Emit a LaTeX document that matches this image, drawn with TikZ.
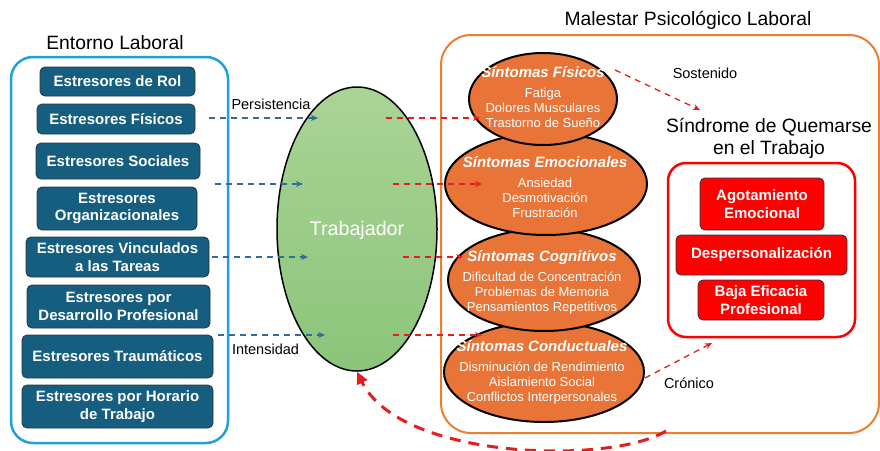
\documentclass[tikz,border=0pt]{standalone}
\usepackage{fontspec}
\setmainfont{Liberation Sans}
\usetikzlibrary{shapes.geometric,arrows.meta}
\definecolor{boxblue}{RGB}{22,94,128}
\definecolor{boxedge}{RGB}{40,55,65}
\definecolor{envblue}{RGB}{34,160,218}
\definecolor{orgline}{RGB}{237,125,49}
\definecolor{orgfill}{RGB}{233,116,55}
\definecolor{dashblue}{RGB}{46,110,150}
\definecolor{dashred}{RGB}{228,30,30}
\definecolor{greenT}{RGB}{170,212,150}
\definecolor{greenB}{RGB}{140,196,122}
\newcommand{\fs}[2]{\fontsize{#1}{#2}\selectfont}
\tikzset{
  sbox/.style={rectangle, rounded corners=5pt, fill=boxblue, draw=boxedge, line width=0.8pt,
    text=white, align=center, inner sep=0pt, font=\fs{15}{17.5}\bfseries},
  rbox/.style={rectangle, rounded corners=5pt, fill=red, draw=boxedge, line width=0.8pt,
    text=white, align=center, inner sep=0pt, font=\fs{15}{18}\bfseries},
  oell/.style={ellipse, fill=orgfill, draw=black, line width=2pt, inner sep=0pt},
  otext/.style={text=white, align=center, font=\fs{13}{15}},
  bluearrow/.style={draw=dashblue, line width=1.3pt, dash pattern=on 6pt off 5pt, -{Stealth[length=7pt,width=6pt]}},
  redarrow/.style={draw=dashred, line width=1.3pt, dash pattern=on 6pt off 5pt, -{Stealth[length=7pt,width=6pt]}},
  lbl/.style={text=black, font=\fs{14.5}{16}},
  title/.style={text=black, font=\fs{19.3}{22}, align=center}
}
\begin{document}
\begin{tikzpicture}[x=1pt,y=-1pt]
\useasboundingbox (0,0) rectangle (880,450);
% containers
\draw[envblue, line width=2.5pt, rounded corners=22pt] (11,57) rectangle (228,443);
\node[title] (tEnv) at (115,43) {Entorno Laboral};
\draw[orgline, line width=2pt, rounded corners=30pt] (441,35) rectangle (879,433);
\node[title] (tMal) at (688,20) {Malestar Psicológico Laboral};

% stressor boxes
\node[sbox, minimum width=155pt, minimum height=29pt] (b1) at (117.5,81.5) {Estresores de Rol};
\node[sbox, minimum width=158pt, minimum height=30pt] (b2) at (116,119) {Estresores Físicos};
\node[sbox, minimum width=164pt, minimum height=36pt] (b3) at (118,161) {Estresores Sociales};
\node[sbox, minimum width=160pt, minimum height=43pt] (b4) at (117,208.5) {Estresores\\Organizacionales};
\node[sbox, minimum width=183pt, minimum height=40pt] (b5) at (117.5,257) {Estresores Vinculados\\a las Tareas};
\node[sbox, minimum width=183pt, minimum height=43pt] (b6) at (118.5,306.5) {Estresores por\\Desarrollo Profesional};
\node[sbox, minimum width=191pt, minimum height=43pt] (b7) at (117.5,356.5) {Estresores Traumáticos};
\node[sbox, minimum width=191pt, minimum height=43pt] (b8) at (117.5,406.5) {Estresores por Horario\\de Trabajo};

% worker
\node[ellipse, draw=black, line width=1.5pt, top color=greenT, bottom color=greenB,
  minimum width=160pt, minimum height=284pt, inner sep=0pt] (w) at (357,229) {};
\node[text=white, font=\fs{19.7}{22}] (wt) at (357,230) {Trabajador};

% blue arrows
\coordinate (bs1) at (209,118); \coordinate (be1) at (318,118);
\coordinate (bs2) at (215,184); \coordinate (be2) at (303,184);
\coordinate (bs3) at (212,257); \coordinate (be3) at (308,257);
\coordinate (bs4) at (218,335); \coordinate (be4) at (325,335);
\draw[bluearrow] (bs1) -- (be1);
\draw[bluearrow] (bs2) -- (be2);
\draw[bluearrow] (bs3) -- (be3);
\draw[bluearrow] (bs4) -- (be4);
\node[lbl] (lp) at (271,104) {Persistencia};
\node[lbl] (li) at (265.5,349) {Intensidad};

% symptom ellipses
\node[oell, minimum width=200pt, minimum height=100pt] (e4) at (544,372) {};
\node[oell, minimum width=192pt, minimum height=102pt] (e3) at (544,280) {};
\node[oell, minimum width=202pt, minimum height=102pt] (e2) at (546,184) {};
\node[oell, minimum width=148pt, minimum height=92pt] (e1) at (543,99) {};

\node[otext] (t1) at (543,97) {{\fs{15}{15}\bfseries\itshape Síntomas Físicos}\\[5pt]Fatiga\\Dolores Musculares\\Trastorno de Sueño};
\node[otext] (t2) at (545,187.5) {{\fs{15}{15}\bfseries\itshape Síntomas Emocionales}\\[5pt]Ansiedad\\Desmotivación\\Frustración};
\node[otext] (t3) at (542,282.5) {{\fs{15}{15}\bfseries\itshape Síntomas Cognitivos}\\[5pt]Dificultad de Concentración\\Problemas de Memoria\\Pensamientos Repetitivos};
\node[otext] (t4) at (542,372.5) {{\fs{15}{15}\bfseries\itshape Síntomas Conductuales}\\[5pt]Disminución de Rendimiento\\Aislamiento Social\\Conflictos Interpersonales};

% red arrows worker -> symptoms
\coordinate (rs1) at (386,118); \coordinate (re1) at (480,118);
\coordinate (rs2) at (393,184); \coordinate (re2) at (482,184);
\coordinate (rs3) at (403,257); \coordinate (re3) at (463,257);
\coordinate (rs4) at (393,335); \coordinate (re4) at (482,335);
\draw[redarrow] (rs1) -- (re1);
\draw[redarrow] (rs2) -- (re2);
\draw[redarrow] (rs3) -- (re3);
\draw[redarrow] (rs4) -- (re4);

% burnout
\node[title] (tSQ) at (769,138) {Síndrome de Quemarse\\en el Trabajo};
\draw[red, line width=2.5pt, rounded corners=18pt] (668,163) rectangle (855,337);
\node[rbox, minimum width=124pt, minimum height=52pt] (r1) at (762,204) {Agotamiento\\Emocional};
\node[rbox, minimum width=171pt, minimum height=40pt] (r2) at (761.5,255) {Despersonalización};
\node[rbox, minimum width=126pt, minimum height=40pt] (r3) at (761,300) {Baja Eficacia\\Profesional};

% sostenido / cronico
\coordinate (ss) at (615,70); \coordinate (se) at (700,110);
\draw[redarrow] (ss) -- (se);
\node[lbl] (ls) at (705,73) {Sostenido};
\coordinate (cs) at (645,378); \coordinate (ce) at (712,343);
\draw[redarrow] (cs) -- (ce);
\node[lbl] (lc) at (689,383) {Crónico};

% feedback loop
\coordinate (fs) at (666,431);
\draw[draw=dashred, line width=3pt, dash pattern=on 11pt off 8pt, -{Triangle[length=12pt,width=11pt]}]
  (fs) .. controls (610,465) and (400,460) .. (w.south);
\end{tikzpicture}
\end{document}
